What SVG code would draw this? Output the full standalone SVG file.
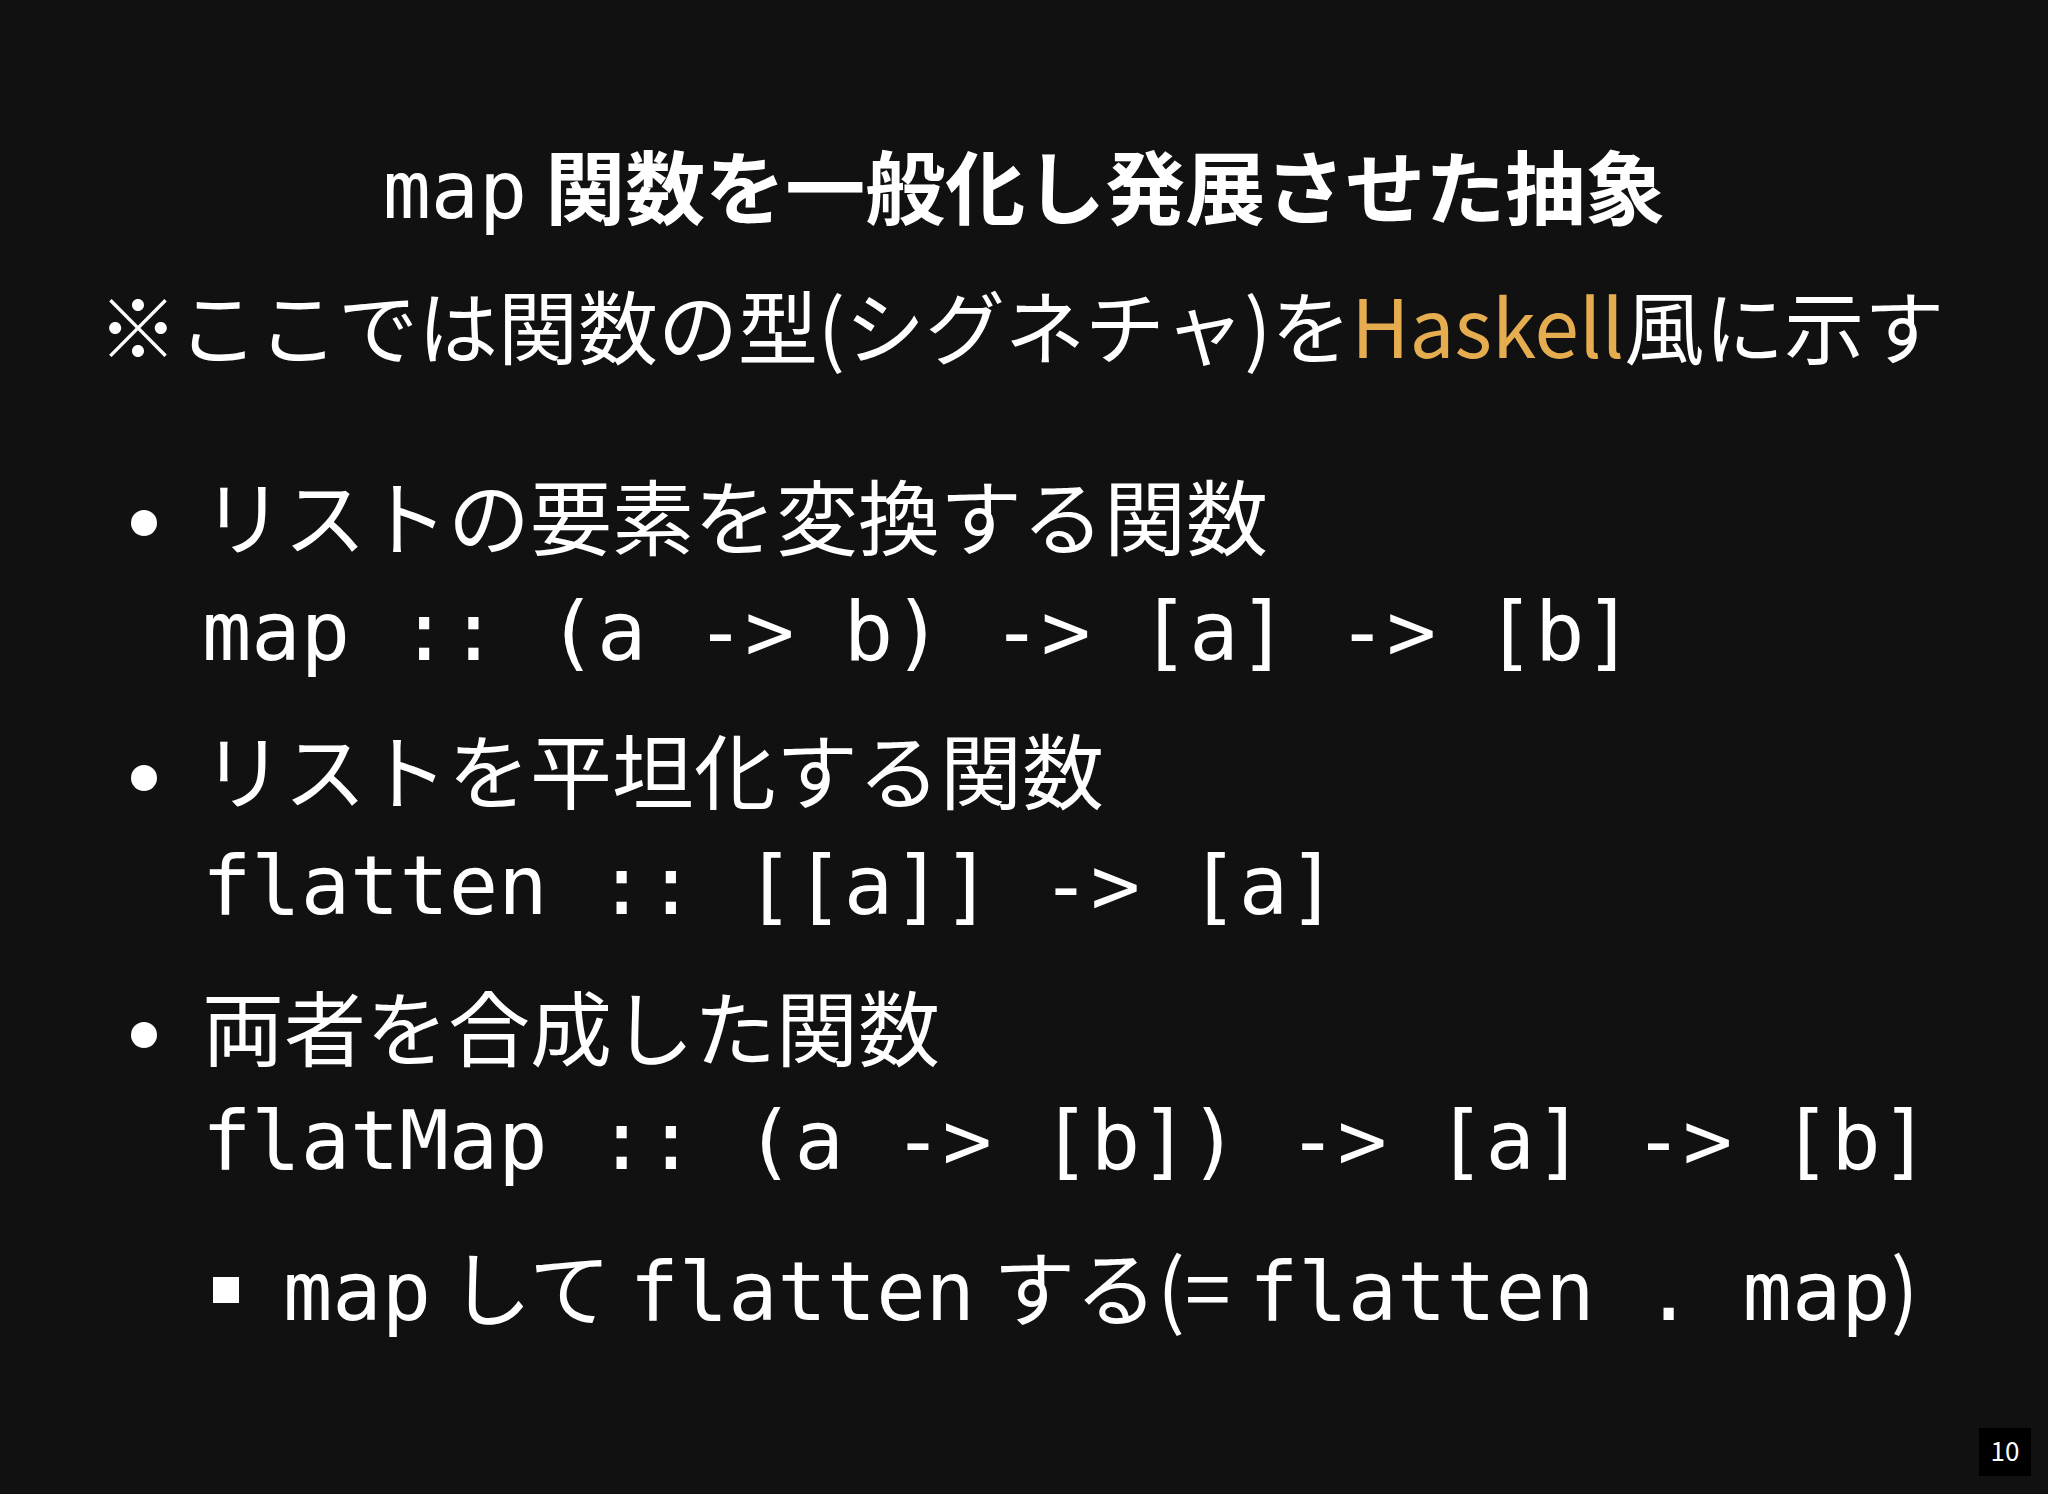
<svg xmlns="http://www.w3.org/2000/svg" width="2048" height="1494" viewBox="0 0 2048 1494">
<style>
.s{font-family:"Noto Sans CJK JP","Noto Sans",sans-serif;fill:#ffffff}
.m{font-family:"DejaVu Sans Mono","Liberation Mono",monospace;fill:#ffffff}
.c{font-size:82px}
.b{font-size:82px}
</style>
<rect width="2048" height="1494" fill="#111111"/>
<g id="title"><text x="1024" y="218" text-anchor="middle" font-size="80" class="s" font-weight="bold"><tspan class="m" font-weight="normal">map</tspan> 関数を一般化し発展させた抽象</text></g>
<g id="note"><text x="98" y="358" font-size="80" class="s">※ここでは関数の型(シグネチャ)を<tspan fill="#e5ad4f">Haskell</tspan>風に示す</text></g>
<g id="item1">
<circle cx="144" cy="523" r="13" fill="#fff"/>
<text x="202" y="549" class="s b">リストの要素を変換する関数</text>
<text x="202" y="660" class="m c">map :: (a -&gt; b) -&gt; [a] -&gt; [b]</text>
</g>
<g id="item2">
<circle cx="144" cy="778" r="13" fill="#fff"/>
<text x="202" y="803" class="s b">リストを平坦化する関数</text>
<text x="202" y="914" class="m c">flatten :: [[a]] -&gt; [a]</text>
</g>
<g id="item3">
<circle cx="144" cy="1035" r="13" fill="#fff"/>
<text x="202" y="1060" class="s b">両者を合成した関数</text>
<text x="202" y="1169" class="m c">flatMap :: (a -&gt; [b]) -&gt; [a] -&gt; [b]</text>
</g>
<g id="sub">
<rect x="213" y="1277" width="26" height="26" fill="#fff"/>
<text x="283" y="1320" class="s" font-size="82"><tspan class="m">map</tspan> して <tspan class="m">flatten</tspan> する(= <tspan class="m">flatten . map</tspan>)</text>
</g>
<g id="page">
<rect x="1979" y="1428" width="52" height="48" fill="#000"/>
<text x="2005" y="1461" text-anchor="middle" font-size="26" class="s">10</text>
</g>
</svg>
